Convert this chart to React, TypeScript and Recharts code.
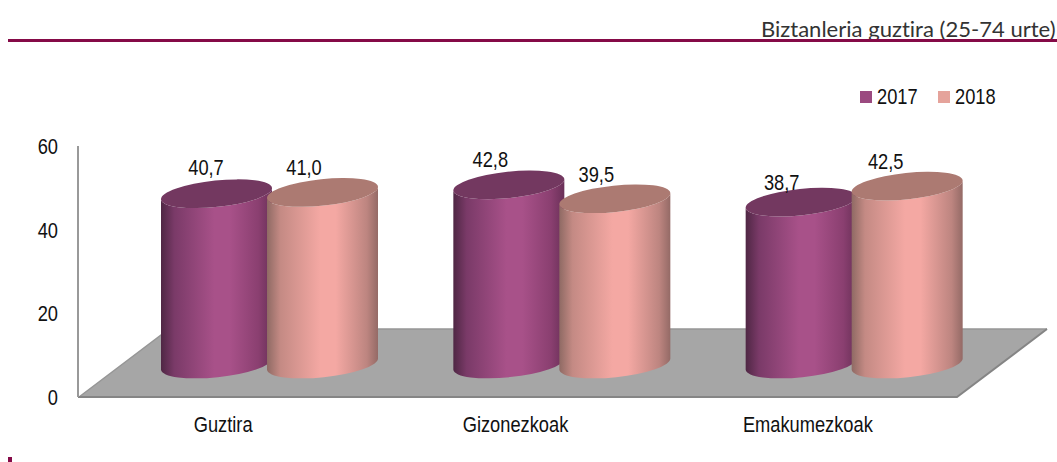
import React from "react";
import { BarChart, Bar, XAxis, YAxis, Legend, LabelList, ReferenceArea } from "recharts";

const categories = ["Guztira", "Gizonezkoak", "Emakumezkoak"];
const values2017 = [40.7, 42.8, 38.7];
const values2018 = [41.0, 39.5, 42.5];
const yTicks = [0, 20, 40, 60];
const titleText = "Biztanleria guztira (25-74 urte)";

const rows = categories.map((name, i) => ({ name, s2017: values2017[i], s2018: values2018[i] }));

const W = 1057;
const H = 462;
const DEPTH_X = 45;
const DEPTH_Y = -33;
const TILT = 6;
const FONT = "'Liberation Sans', sans-serif";
const FONT_SIZE = 21.5;
const NARROW_SCALE = 0.85;
const NUDGE_2017 = [[6, -2], [-2, -1], [-3, 5]];
const NUDGE_2018 = [[-2, 0], [-2, 0], [-5, 0]];

function NarrowText({ x, y, anchor, children }: any) {
  return (
    <text
      transform={`translate(${x} ${y}) scale(${NARROW_SCALE} 1)`}
      textAnchor={anchor}
      fontFamily={FONT}
      fontSize={FONT_SIZE}
      fill="#111"
    >
      {children}
    </text>
  );
}

function XTick({ x, y, payload }: any) {
  return (
    <NarrowText x={x - 1} y={y + 27} anchor="middle">
      {payload.value}
    </NarrowText>
  );
}

function YTick({ x, y, payload }: any) {
  return (
    <NarrowText x={58} y={y + 8} anchor="end">
      {payload.value}
    </NarrowText>
  );
}

function Cylinder(props: any) {
  const { x, y, width, height, bodyId, topFill } = props;
  const cx = x + width / 2 + DEPTH_X;
  const rx = width / 2;
  const rad = (TILT * Math.PI) / 180;
  const a = rx / Math.cos(rad);
  const b = 13.2;
  const t = rx * Math.tan(rad);
  const top = y + DEPTH_Y;
  const bottom = y + height + DEPTH_Y;
  const body = [
    `M ${cx - rx} ${top + t}`,
    `L ${cx - rx} ${bottom + t}`,
    `A ${a} ${b} ${-TILT} 0 0 ${cx + rx} ${bottom - t}`,
    `L ${cx + rx} ${top - t}`,
    `A ${a} ${b} ${-TILT} 0 1 ${cx - rx} ${top + t}`,
    "Z",
  ].join(" ");
  return (
    <g>
      <path d={body} fill={`url(#${bodyId})`} />
      <ellipse cx={cx} cy={top} rx={a} ry={b} fill={topFill} transform={`rotate(${-TILT} ${cx} ${top})`} />
    </g>
  );
}

function Floor(props: any) {
  const { x, y, width, height } = props;
  const bottom = y + height;
  const right = x + width + 2;
  const backY = bottom - 68;
  const pts = `${x + 1},${bottom} ${right},${bottom} ${right + 90},${backY} ${x + 91},${backY}`;
  return (
    <g>
      <polygon points={pts} fill="#A6A6A6" />
      <polyline points={`${x + 1},${bottom} ${x + 91},${backY} ${right + 90},${backY}`} fill="none" stroke="#969696" strokeWidth={1.5} />
      <polyline points={`${x},${bottom} ${right},${bottom} ${right + 90},${backY}`} fill="none" stroke="#858585" strokeWidth={2} />
    </g>
  );
}

const makeLabel = (nudges: number[][]) => (props: any) => {
  const { x, y, width, value, index } = props;
  const [nx, ny] = nudges[index] || [0, 0];
  return (
    <NarrowText x={x + width / 2 + DEPTH_X - 16.5 + nx} y={y + DEPTH_Y - 17 + ny} anchor="middle">
      {value.toFixed(1).replace(".", ",")}
    </NarrowText>
  );
};

function LegendRow({ payload }: any) {
  return (
    <div style={{ display: "flex", fontFamily: FONT, fontSize: FONT_SIZE, color: "#111", lineHeight: "24px" }}>
      {(payload || []).map((p: any) => (
        <div key={p.value} style={{ display: "flex", alignItems: "center", width: 78 }}>
          <span style={{ width: 12, height: 12, background: p.color, marginRight: 5 }} />
          <span style={{ display: "inline-block", transform: `scaleX(${NARROW_SCALE})`, transformOrigin: "left center" }}>
            {p.value}
          </span>
        </div>
      ))}
    </div>
  );
}

export default function App() {
  return (
    <div style={{ position: "absolute", left: 0, top: 0, width: W, height: H, overflow: "hidden", background: "#fff" }}>
      <div
        style={{
          position: "absolute",
          right: 1,
          top: 16,
          fontFamily: "Lato, sans-serif",
          fontSize: 21,
          fontWeight: 400,
          fontVariantLigatures: "none",
          lineHeight: "26px",
          color: "#333",
          whiteSpace: "nowrap",
          transform: "scaleX(1.05)",
          transformOrigin: "right center",
        }}
      >
        {titleText}
      </div>
      <div style={{ position: "absolute", left: 8, right: 0, top: 39, height: 3, background: "#850A47" }} />
      <div style={{ position: "absolute", left: 8, top: 457, width: 4, height: 5, background: "#850A47" }} />
      <BarChart
        width={W}
        height={H}
        data={rows}
        margin={{ top: 146, right: 102, bottom: 0, left: 0 }}
        barSize={111}
        barGap={-5}
      >
        <defs>
          <linearGradient id="body2017" x1="0" y1="0" x2="1" y2="0">
            <stop offset="0" stopColor="#4F2744" />
            <stop offset="0.12" stopColor="#7A3A68" />
            <stop offset="0.48" stopColor="#A85189" />
            <stop offset="0.62" stopColor="#A85189" />
            <stop offset="0.88" stopColor="#8A3F70" />
            <stop offset="1" stopColor="#6A3058" />
          </linearGradient>
          <linearGradient id="body2018" x1="0" y1="0" x2="1" y2="0">
            <stop offset="0" stopColor="#8F6A64" />
            <stop offset="0.12" stopColor="#C48A84" />
            <stop offset="0.48" stopColor="#F4A8A3" />
            <stop offset="0.62" stopColor="#F4A8A3" />
            <stop offset="0.9" stopColor="#BD8580" />
            <stop offset="1" stopColor="#946A66" />
          </linearGradient>
        </defs>
        <ReferenceArea y1={0} y2={60} shape={<Floor />} />
        <XAxis
          dataKey="name"
          height={65}
          axisLine={{ stroke: "#858585", strokeWidth: 2 }}
          tickLine={false}
          interval={0}
          tick={<XTick />}
        />
        <YAxis
          domain={[0, 60]}
          ticks={yTicks}
          width={78}
          axisLine={{ stroke: "#999999", strokeWidth: 2 }}
          tickLine={false}
          tick={<YTick />}
        />
        <Legend
          layout="horizontal"
          align="center"
          verticalAlign="middle"
          content={<LegendRow />}
          wrapperStyle={{ position: "absolute", left: 860, top: 85, width: 170, bottom: "auto", right: "auto" }}
        />
        <Bar
          dataKey="s2017"
          name="2017"
          fill="#9B4A80"
          isAnimationActive={false}
          shape={<Cylinder bodyId="body2017" topFill="#733860" />}
        >
          <LabelList dataKey="s2017" content={makeLabel(NUDGE_2017)} />
        </Bar>
        <Bar
          dataKey="s2018"
          name="2018"
          fill="#E5A39B"
          isAnimationActive={false}
          shape={<Cylinder bodyId="body2018" topFill="#AC7A72" />}
        >
          <LabelList dataKey="s2018" content={makeLabel(NUDGE_2018)} />
        </Bar>
      </BarChart>
    </div>
  );
}
